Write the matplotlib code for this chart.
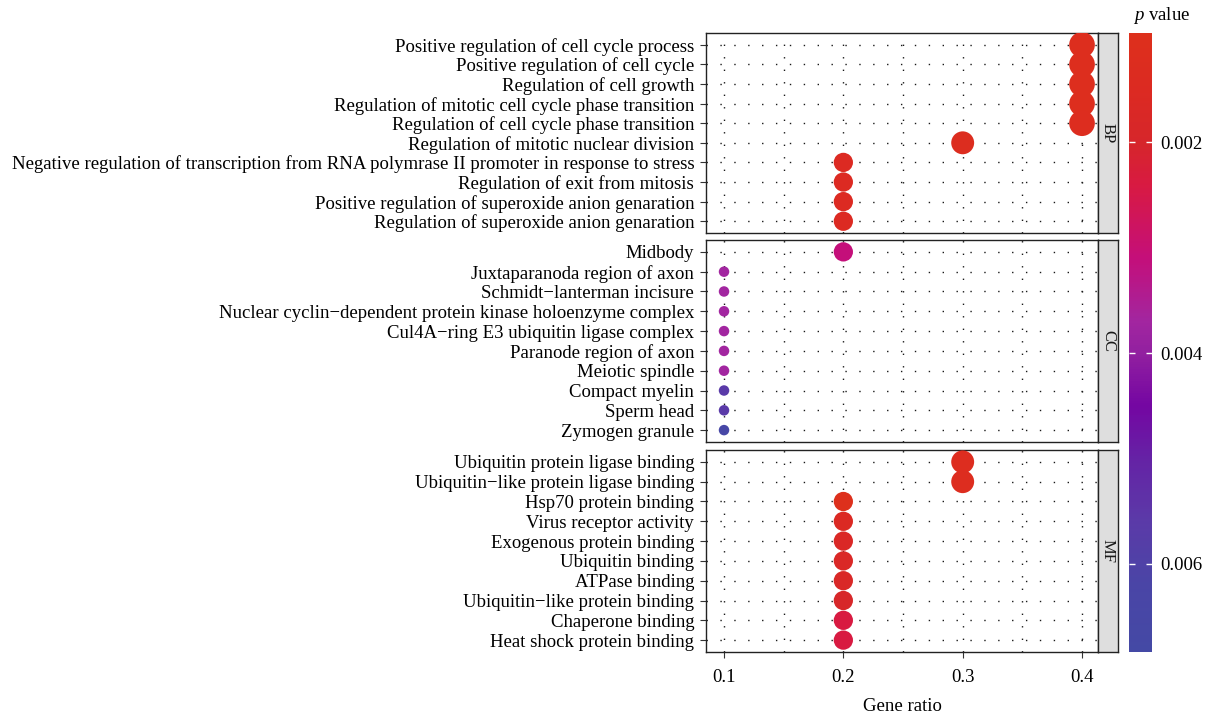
import numpy as np
import matplotlib
matplotlib.use("Agg")
import matplotlib.pyplot as plt
from matplotlib.colors import LinearSegmentedColormap, Normalize
from matplotlib.cm import ScalarMappable

plt.rcParams["font.family"] = ["Liberation Serif", "DejaVu Serif"]
plt.rcParams["mathtext.fontset"] = "custom"
plt.rcParams["mathtext.it"] = "Liberation Serif:italic"
plt.rcParams["mathtext.rm"] = "Liberation Serif"

# ---- data -------------------------------------------------------------
bp_terms = [
    "Positive regulation of cell cycle process",
    "Positive regulation of cell cycle",
    "Regulation of cell growth",
    "Regulation of mitotic cell cycle phase transition",
    "Regulation of cell cycle phase transition",
    "Regulation of mitotic nuclear division",
    "Negative regulation of transcription from RNA polymrase II promoter in response to stress",
    "Regulation of exit from mitosis",
    "Positive regulation of superoxide anion genaration",
    "Regulation of superoxide anion genaration",
]
bp_ratio = [0.4, 0.4, 0.4, 0.4, 0.4, 0.3, 0.2, 0.2, 0.2, 0.2]
bp_pvalue = [0.00112, 0.00114, 0.00116, 0.00118, 0.0012, 0.00125, 0.0015, 0.0015, 0.0015, 0.0015]

cc_terms = [
    "Midbody",
    "Juxtaparanoda region of axon",
    "Schmidt\u2212lanterman incisure",
    "Nuclear cyclin\u2212dependent protein kinase holoenzyme complex",
    "Cul4A\u2212ring E3 ubiquitin ligase complex",
    "Paranode region of axon",
    "Meiotic spindle",
    "Compact myelin",
    "Sperm head",
    "Zymogen granule",
]
cc_ratio = [0.2, 0.1, 0.1, 0.1, 0.1, 0.1, 0.1, 0.1, 0.1, 0.1]
cc_pvalue = [0.0031, 0.0037, 0.0037, 0.0037, 0.0037, 0.0037, 0.0037, 0.0056, 0.0056, 0.0065]

mf_terms = [
    "Ubiquitin protein ligase binding",
    "Ubiquitin\u2212like protein ligase binding",
    "Hsp70 protein binding",
    "Virus receptor activity",
    "Exogenous protein binding",
    "Ubiquitin binding",
    "ATPase binding",
    "Ubiquitin\u2212like protein binding",
    "Chaperone binding",
    "Heat shock protein binding",
]
mf_ratio = [0.3, 0.3, 0.2, 0.2, 0.2, 0.2, 0.2, 0.2, 0.2, 0.2]
mf_pvalue = [0.0012, 0.0012, 0.00096, 0.0016, 0.0017, 0.0017, 0.0018, 0.0019, 0.0024, 0.0024]

panels = [("BP", bp_terms, bp_ratio, bp_pvalue),
          ("CC", cc_terms, cc_ratio, cc_pvalue),
          ("MF", mf_terms, mf_ratio, mf_pvalue)]

x_ticks = [0.1, 0.2, 0.3, 0.4]
cbar_ticks = [0.002, 0.004, 0.006]
p_min, p_max = 0.00096, 0.00684

# ---- colour scale (low p = red, high p = blue) -------------------------
stops = [
    (0.00096, "#DD301C"),
    (0.0015, "#DC2A22"),
    (0.0020, "#D6262B"),
    (0.0024, "#D81A42"),
    (0.0031, "#C40F7A"),
    (0.0037, "#A226A0"),
    (0.0040, "#9220A0"),
    (0.0045, "#7406A2"),
    (0.0050, "#6522A5"),
    (0.0056, "#5B3AA8"),
    (0.0062, "#4A45A6"),
    (0.00684, "#4449A5"),
]
cmap = LinearSegmentedColormap.from_list(
    "pval", [((v - p_min) / (p_max - p_min), c) for v, c in stops])
norm = Normalize(vmin=p_min, vmax=p_max)


def marker_area(r):
    # diameter grows with the square root of the ratio (area-like scale)
    r = np.asarray(r, dtype=float)
    d_px = 10.5 + 15.2 * np.sqrt((r - 0.1) / 0.3)
    d_pt = d_px * 72 / 100
    return d_pt ** 2


# ---- figure layout --------------------------------------------------------
W, H = 1209, 718
fig = plt.figure(figsize=(W / 100, H / 100), dpi=100)


def frac_box(x0, y0, x1, y1):
    return [x0 / W, 1 - y1 / H, (x1 - x0) / W, (y1 - y0) / H]


panel_rows = [(33, 233), (240, 442), (450, 652)]
px_left, px_right = 706, 1098
strip_right = 1118
label_size = 13.5
grid_style = dict(color="#1a1a1a", lw=1.0)

for i, ((name, terms, ratio, pval), (top, bot)) in enumerate(zip(panels, panel_rows)):
    ax = fig.add_axes(frac_box(px_left, top, px_right, bot))
    n = len(terms)
    y = np.arange(n)[::-1]
    ax.set_axisbelow(True)
    ax.scatter(ratio, y, s=marker_area(ratio), c=pval, cmap=cmap, norm=norm,
               edgecolors="none", zorder=3)
    ax.set_xlim(0.0849, 0.4134)
    ax.set_ylim(-0.6, n - 0.4)
    ax.set_yticks(y)
    ax.set_yticklabels(terms, fontsize=label_size)
    ax.set_xticks(x_ticks)
    ax.set_xticks([0.15, 0.25, 0.35], minor=True)
    ax.grid(True, which="both", axis="x", linestyle=(0, (1, 8)), **grid_style)
    ax.grid(True, which="major", axis="y", linestyle=(0, (1, 9)), **grid_style)
    ax.tick_params(axis="y", length=4, width=0.8, color="#333333", pad=4.5)
    ax.tick_params(axis="x", which="minor", length=0)
    if i < 2:
        ax.tick_params(axis="x", which="major", length=0, labelbottom=False)
    else:
        ax.tick_params(axis="x", which="major", length=4, width=0.8,
                       color="#333333", pad=8, labelsize=label_size)
        ax.set_xticklabels([f"{v:.1f}" for v in x_ticks])
        ax.set_xlabel("Gene ratio", fontsize=label_size, labelpad=9)
    for sp in ax.spines.values():
        sp.set_linewidth(1.0)
        sp.set_color("#222222")

    # facet strip on the right
    sax = fig.add_axes(frac_box(px_right, top, strip_right, bot))
    sax.set_facecolor("#DEDEDE")
    sax.set_xticks([])
    sax.set_yticks([])
    for sp in sax.spines.values():
        sp.set_linewidth(1.0)
        sp.set_color("#222222")
    sax.text(0.5, 0.5, name, rotation=270, ha="center", va="center",
             fontsize=12, color="#1a1a1a", transform=sax.transAxes)

# ---- colour bar -----------------------------------------------------------
cax = fig.add_axes(frac_box(1129, 33, 1152, 652))
sm = ScalarMappable(norm=norm, cmap=cmap)
cb = fig.colorbar(sm, cax=cax)
cb.outline.set_visible(False)
cax.invert_yaxis()
cb.set_ticks(cbar_ticks)
cb.set_ticklabels([f"{v:.3f}" for v in cbar_ticks])
cax.tick_params(which="both", direction="in", color="white", width=1.0,
                length=4.5, left=True, right=True, labelsize=label_size, pad=6)
cax.minorticks_off()
fig.text(1162 / W, 1 - 15 / H, r"$\it{p}$ value", ha="center", va="center",
         fontsize=label_size)

fig.savefig("out.png", dpi=100)
